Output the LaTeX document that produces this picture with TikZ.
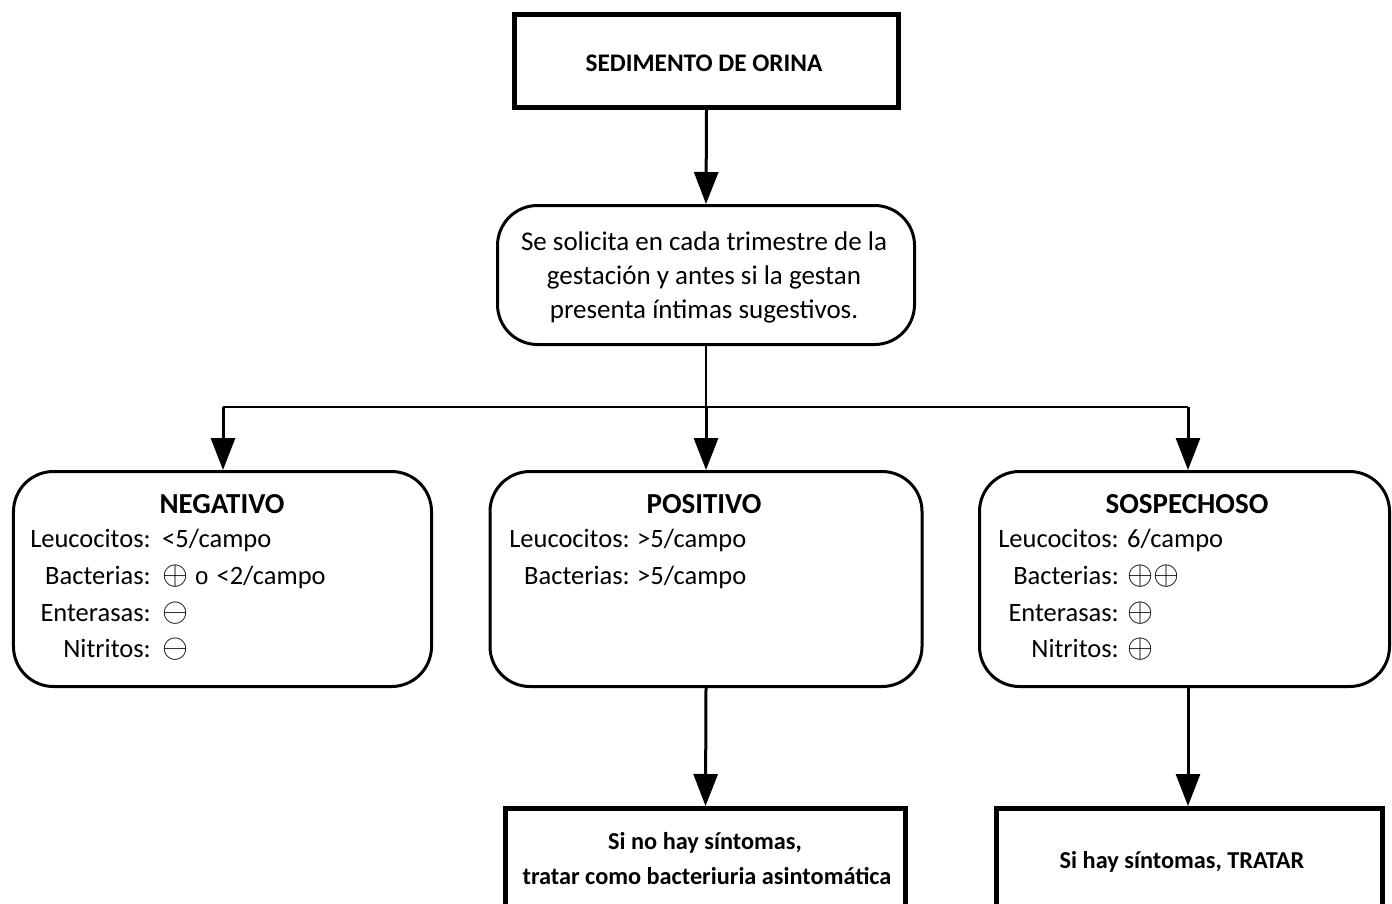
\documentclass[tikz,border=0pt]{standalone}
\usepackage{graphicx}
\usepackage{fontspec}
\setmainfont{Carlito}
\newfontfamily\valfont{Liberation Sans}
\usetikzlibrary{arrows.meta}

% circled signs, thin-stroked, sitting on the text baseline
\newcommand{\signplus}{\scalebox{1.35}{$\oplus$}}
\newcommand{\signminus}{\scalebox{1.35}{$\ominus$}}

\tikzset{
  heavybox/.style={draw, line width=5bp, inner sep=0pt, fill=white},
  softbox/.style={draw, line width=3bp, rounded corners=40bp, inner sep=0pt},
  link/.style={line width=3bp, -{Triangle[length=32bp,width=24bp]}},
  rail/.style={line width=2.6bp},
  ttl/.style={font=\fontsize{29bp}{33bp}\selectfont\bfseries, anchor=base, inner sep=0pt},
  lbl/.style={font=\fontsize{26.5bp}{30bp}\selectfont, anchor=base east, inner sep=0pt},
  val/.style={font=\fontsize{26.5bp}{30bp}\selectfont, anchor=base west, inner sep=0pt},
  outtxt/.style={font=\fontsize{24.3bp}{30bp}\selectfont\bfseries, anchor=base, inner sep=0pt},
}

\begin{document}
\begin{tikzpicture}[x=1bp, y=-1bp]
  \useasboundingbox (0,0) rectangle (1392,903);
  \fill[white] (0,0) rectangle (1392,903);
  \clip (0,0) rectangle (1392,903);

  % header
  \node[heavybox, minimum width=384bp, minimum height=93bp] (sed) at (706.5,61) {};
  \node[font=\fontsize{25.3bp}{28bp}\selectfont\bfseries, anchor=base, inner sep=0pt] (sedt) at (704,71) {SEDIMENTO DE ORINA};

  % request box
  \node[softbox, minimum width=417bp, minimum height=139bp] (ask) at (706,275) {};
  \node[align=center, font=\fontsize{27bp}{34bp}\selectfont, inner sep=0pt] (askt) at (704,277.5)
    {Se solicita en cada trimestre de la\\ gestación y antes si la gestan\\ presenta íntimas sugestivos.};

  % result boxes
  \node[softbox, minimum width=418bp, minimum height=215bp] (neg) at (222.5,579) {};
  \node[softbox, minimum width=432bp, minimum height=215bp] (pos) at (706,579) {};
  \node[softbox, minimum width=410bp, minimum height=215bp] (sos) at (1184.5,579) {};

  \node[ttl] (negt) at (222,513) {NEGATIVO};
  \node[ttl] (post) at (704,513) {POSITIVO};
  \node[ttl] (sost) at (1187,513) {SOSPECHOSO};

  % NEGATIVO rows
  \node[lbl] (nl1) at (151,547) {Leucocitos:};
  \node[val] (nv1) at (162,547) {<5/campo};
  \node[lbl] (nl2) at (151,584) {Bacterias:};
  \node[val] (nv2) at (162,584) {\signplus\hspace{7bp}{\valfont\fontsize{24bp}{26bp}\selectfont o}\hspace{8bp}<2/campo};
  \node[lbl] (nl3) at (151,621) {Enterasas:};
  \node[val] (nv3) at (162,621) {\signminus};
  \node[lbl] (nl4) at (151,657) {Nitritos:};
  \node[val] (nv4) at (162,657) {\signminus};

  % POSITIVO rows
  \node[lbl] (pl1) at (630,547) {Leucocitos:};
  \node[val] (pv1) at (637,547) {>5/campo};
  \node[lbl] (pl2) at (630,584) {Bacterias:};
  \node[val] (pv2) at (637,584) {>5/campo};

  % SOSPECHOSO rows
  \node[lbl] (sl1) at (1119,547) {Leucocitos:};
  \node[val] (sv1) at (1127,547) {6/campo};
  \node[lbl] (sl2) at (1119,584) {Bacterias:};
  \node[val] (sv2) at (1127,584) {\signplus\signplus};
  \node[lbl] (sl3) at (1119,621) {Enterasas:};
  \node[val] (sv3) at (1127,621) {\signplus};
  \node[lbl] (sl4) at (1119,657) {Nitritos:};
  \node[val] (sv4) at (1127,657) {\signplus};

  % outcome boxes
  \node[heavybox, minimum width=400bp, minimum height=150bp] (r1) at (705.5,883.5) {};
  \node[heavybox, minimum width=386bp, minimum height=150bp] (r2) at (1189.5,883.5) {};
  \node[outtxt] (r1a) at (705,849) {Si no hay síntomas,};
  \node[outtxt] (r1b) at (707,884) {tratar como bacteriuria asintomática};
  \node[outtxt] (r2a) at (1182,868) {Si hay síntomas, TRATAR};

  % connectors
  \coordinate (jl) at (223,407);
  \coordinate (jm) at (706,407);
  \coordinate (jr) at (1188,407);

  \draw[link] (sed.south) -- (ask.north);
  \draw[rail] (ask.south) -- (jm);
  \draw[rail] (jl) -- (jr);
  \draw[link] (jl) -- (jl |- neg.north);
  \draw[link] (jm) -- (jm |- pos.north);
  \draw[link] (jr) -- (jr |- sos.north);
  \draw[link] (pos.south) -- (r1.north);
  \draw[link] (jr |- sos.south) -- (jr |- r2.north);
\end{tikzpicture}
\end{document}
